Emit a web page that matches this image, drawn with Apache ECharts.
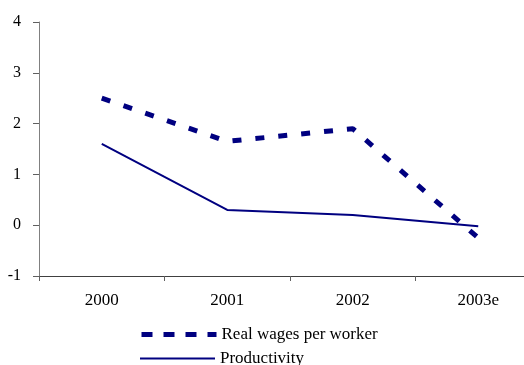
<!DOCTYPE html>
<html><head><meta charset="utf-8">
<script src="https://cdn.jsdelivr.net/npm/echarts@6/dist/echarts.min.js"></script>
<style>html,body{margin:0;padding:0;background:#fff}#c{width:524px;height:365px}</style>
</head><body><div id="c"></div>
<script>
const categories = ['2000', '2001', '2002', '2003e'];
const realWages = [2.5, 1.65, 1.9, -0.25];
const productivity = [1.6, 0.3, 0.2, -0.02];
const yTicks = [-1, 0, 1, 2, 3, 4];

const chart = echarts.init(document.getElementById('c'));
const font = 'Liberation Serif, Times New Roman, serif';
const legendText = { fontFamily: font, fontSize: 17, color: '#000' };
chart.setOption({
  animation: false,
  grid: { left: 39, top: 22, right: -17, bottom: 89, outerBoundsMode: 'none' },
  legend: [
    { left: 139, top: 326, padding: 0, itemWidth: 75, itemHeight: 14, itemGap: 0,
      itemStyle: { opacity: 0 },
      lineStyle: { width: 5, type: [11, 11] },
      textStyle: legendText, data: ['Real wages per worker'] },
    { left: 139, top: 350, padding: 0, itemWidth: 75, itemHeight: 14, itemGap: 0,
      itemStyle: { opacity: 0 },
      lineStyle: { width: 2 },
      textStyle: legendText, data: ['Productivity'] }
  ],
  xAxis: {
    type: 'category', data: categories, boundaryGap: true,
    axisLine: { onZero: false, lineStyle: { color: '#404040', width: 1 } },
    axisTick: { show: true, length: 5, lineStyle: { color: '#606060' } },
    axisLabel: { fontFamily: font, fontSize: 17, color: '#000', margin: 16 }
  },
  yAxis: {
    type: 'value', min: -1, max: 4, interval: 1,
    axisLine: { show: true, lineStyle: { color: '#808080', width: 1 } },
    axisTick: { show: true, length: 6, lineStyle: { color: '#606060' } },
    axisLabel: { fontFamily: font, fontSize: 16, color: '#000', margin: 18 },
    splitLine: { show: false }
  },
  series: [
    {
      name: 'Real wages per worker', type: 'line', data: realWages,
      symbol: 'none', color: '#000080',
      lineStyle: { color: '#000080', width: 5, type: [9, 14] }
    },
    {
      name: 'Productivity', type: 'line', data: productivity,
      symbol: 'none', color: '#000080',
      lineStyle: { color: '#000080', width: 2 }
    }
  ]
});
</script></body></html>
